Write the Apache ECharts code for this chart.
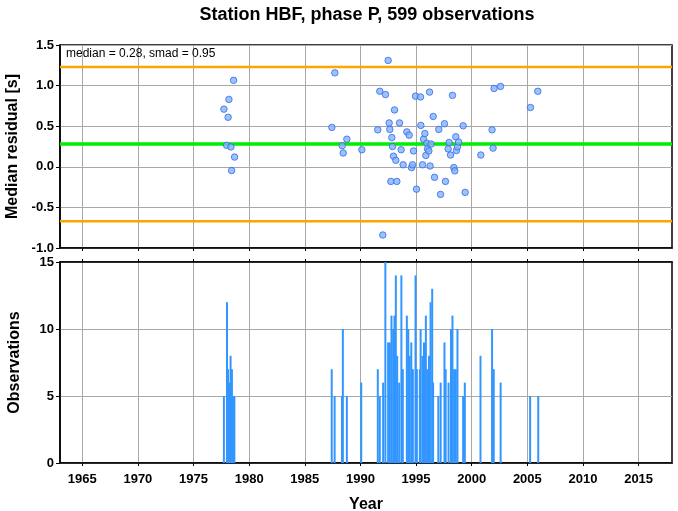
<!DOCTYPE html>
<html>
<head>
<meta charset="utf-8">
<script src="https://cdn.jsdelivr.net/npm/echarts@6/dist/echarts.min.js"></script>
<style>html,body{margin:0;padding:0;background:#fff}#c{width:678px;height:511px}</style>
</head>
<body>
<div id="c"></div>
<script>
var titleText = 'Station HBF, phase P, 599 observations';
var medianVal = 0.28;
var smadVal = 0.95;
var yearTicks = [1965, 1970, 1975, 1980, 1985, 1990, 1995, 2000, 2005, 2010, 2015];
var residualTicks = [-1.0, -0.5, 0.0, 0.5, 1.0, 1.5];
var countTicks = [0, 5, 10, 15];

var residualPoints = [
  [1977.73,0.71],[1977.97,0.265],[1978.11,0.61],[1978.18,0.83],[1978.36,0.245],[1978.42,-0.046],[1978.6,1.065],[1978.69,0.12],
  [1987.43,0.485],[1987.7,1.157],[1988.36,0.26],[1988.45,0.17],[1988.78,0.34],[1990.13,0.21],
  [1991.56,0.455],[1991.74,0.93],[1992.01,-0.84],[1992.25,0.89],[1992.49,1.31],[1992.58,0.54],[1992.64,0.46],[1992.73,-0.18],
  [1992.82,0.36],[1992.88,0.25],[1992.97,0.13],[1993.06,0.70],[1993.18,0.08],[1993.27,-0.18],[1993.51,0.54],[1993.66,0.21],[1993.84,0.025],
  [1994.17,0.43],[1994.38,0.39],[1994.59,-0.01],[1994.68,0.025],[1994.77,0.195],[1994.95,0.87],[1995.04,-0.275],[1995.40,0.86],
  [1995.43,0.51],[1995.58,0.025],[1995.67,0.34],[1995.79,0.41],[1995.88,0.14],[1995.97,0.29],[1996.03,0.22],[1996.15,0.195],
  [1996.21,0.92],[1996.26,0.01],[1996.35,0.28],[1996.54,0.62],[1996.66,-0.13],[1997.04,0.46],[1997.20,-0.34],[1997.55,0.53],
  [1997.64,-0.18],[1997.88,0.22],[1997.97,0.30],[1998.10,0.145],[1998.27,0.88],[1998.39,-0.01],[1998.48,-0.05],[1998.57,0.37],
  [1998.63,0.20],[1998.72,0.245],[1998.82,0.305],[1999.23,0.505],[1999.41,-0.315],[2000.82,0.145],[2001.83,0.455],[2001.92,0.23],
  [2002.01,0.965],[2002.59,0.99],[2005.28,0.73],[2005.94,0.93]
];

var observationCounts = [
  [1977.73,5],[1978.01,12],[1978.10,7],[1978.20,6],[1978.33,8],[1978.45,7],[1978.56,5],[1978.67,5],
  [1987.42,7],[1987.68,5],[1988.42,10],[1988.34,5],[1988.78,5],[1990.07,6],
  [1991.56,7],[1991.74,5],[1992.04,6],[1992.24,15],[1992.49,9],[1992.64,9],[1992.79,11],[1992.94,10],[1993.06,11],
  [1993.18,14],[1993.30,8],[1993.48,6],[1993.68,14],[1993.81,7],[1994.17,11],[1994.30,10],[1994.42,8],[1994.57,9],
  [1994.71,7],[1994.95,14],[1995.07,7],[1995.34,7],[1995.41,10],[1995.58,8],[1995.71,9],
  [1995.88,11],[1996.01,7],[1996.16,8],[1996.30,12],[1996.45,13],[1996.53,6],[1997.00,5],[1997.21,6],[1997.55,9],
  [1997.66,7],[1997.92,6],[1998.14,10],[1998.27,11],[1998.42,7],[1998.57,7],[1998.72,10],[1999.23,5],[1999.38,6],
  [2000.79,8],[2001.83,10],[2001.98,7],[2002.60,6],[2005.25,5],[2005.98,5]
];

var xMin = 1963, xMax = 2018;
var upperVal = +(medianVal + smadVal).toFixed(2);
var lowerVal = +(medianVal - smadVal).toFixed(2);

var fontFam = '"Liberation Sans", Arial, Helvetica, sans-serif';
var gridLine = {show: true, lineStyle: {color: '#a8a8a8', width: 1}};
var axLine = {show: true, onZero: false, lineStyle: {color: '#000', width: 1.5}};
var lbl = {color: '#000', fontFamily: fontFam, fontWeight: 'bold', fontSize: 13};
var nameStyle = {color: '#000', fontFamily: fontFam, fontWeight: 'bold', fontSize: 16};

function xAxisDef(idx, showLabel, pos) {
  return {
    type: 'value', gridIndex: idx, min: xMin, max: xMax, position: pos || 'bottom',
    axisLine: axLine,
    axisTick: {show: true, length: 3, inside: false, customValues: yearTicks, lineStyle: {color: '#000'}},
    axisLabel: Object.assign({show: showLabel, margin: 10, customValues: yearTicks,
      formatter: function (v) { return String(v); }}, lbl),
    splitLine: pos === 'top' ? {show: false} : gridLine,
    name: showLabel ? 'Year' : '', nameLocation: 'middle', nameGap: 34,
    nameTextStyle: nameStyle
  };
}

var chart = echarts.init(document.getElementById('c'), null, {renderer: 'canvas'});
chart.setOption({
  animation: false,
  backgroundColor: '#fff',
  title: {
    text: titleText, left: 362, top: 1, textAlign: 'center',
    textStyle: {color: '#000', fontFamily: fontFam, fontWeight: 'bold', fontSize: 18}
  },
  graphic: [{
    type: 'text', left: 66, top: 48, z: 10,
    style: {text: 'median = ' + medianVal.toFixed(2) + ', smad = ' + smadVal.toFixed(2),
      fill: '#000', font: '12px ' + fontFam}
  }],
  grid: [
    {left: 60, right: 6, top: 45, height: 203, show: true, borderColor: '#000', borderWidth: 1.5,
      backgroundColor: 'transparent', containLabel: false, outerBoundsMode: 'none'},
    {left: 60, right: 6, top: 262, height: 201, show: true, borderColor: '#000', borderWidth: 1.5,
      backgroundColor: 'transparent', containLabel: false, outerBoundsMode: 'none'}
  ],
  xAxis: [xAxisDef(0, false), xAxisDef(1, true), xAxisDef(1, false, 'top')],
  yAxis: [
    {
      type: 'value', gridIndex: 0, min: -1, max: 1.5, interval: 0.5,
      axisLine: axLine, axisTick: {show: true, length: 4, lineStyle: {color: '#000'}},
      axisLabel: Object.assign({margin: 6, formatter: function (v) { return v.toFixed(1); }}, lbl),
      splitLine: gridLine,
      name: 'Median residual [s]', nameLocation: 'middle', nameRotate: 90, nameGap: 39,
      nameTextStyle: nameStyle
    },
    {
      type: 'value', gridIndex: 1, min: 0, max: 15, interval: 5,
      axisLine: axLine, axisTick: {show: true, length: 4, lineStyle: {color: '#000'}},
      axisLabel: Object.assign({margin: 6}, lbl),
      splitLine: gridLine,
      name: 'Observations', nameLocation: 'middle', nameRotate: 90, nameGap: 37,
      nameTextStyle: nameStyle
    }
  ],
  series: [
    {
      type: 'line', xAxisIndex: 0, yAxisIndex: 0, z: 2, symbol: 'none', silent: true,
      data: [[xMin, upperVal], [xMax, upperVal]], lineStyle: {color: '#ffa500', width: 2.5}
    },
    {
      type: 'line', xAxisIndex: 0, yAxisIndex: 0, z: 2, symbol: 'none', silent: true,
      data: [[xMin, lowerVal], [xMax, lowerVal]], lineStyle: {color: '#ffa500', width: 2.5}
    },
    {
      type: 'line', xAxisIndex: 0, yAxisIndex: 0, z: 2, symbol: 'none', silent: true,
      data: [[xMin, medianVal], [xMax, medianVal]], lineStyle: {color: '#00ee00', width: 3.5}
    },
    {
      type: 'scatter', xAxisIndex: 0, yAxisIndex: 0, z: 5, symbolSize: 6.5,
      data: residualPoints,
      itemStyle: {color: '#7eb4fa', borderColor: '#3a66e8', borderWidth: 1}
    },
    {
      type: 'bar', xAxisIndex: 1, yAxisIndex: 1, z: 3, barWidth: 2,
      data: observationCounts,
      itemStyle: {color: '#3296ff'}
    }
  ]
});
</script>
</body>
</html>
